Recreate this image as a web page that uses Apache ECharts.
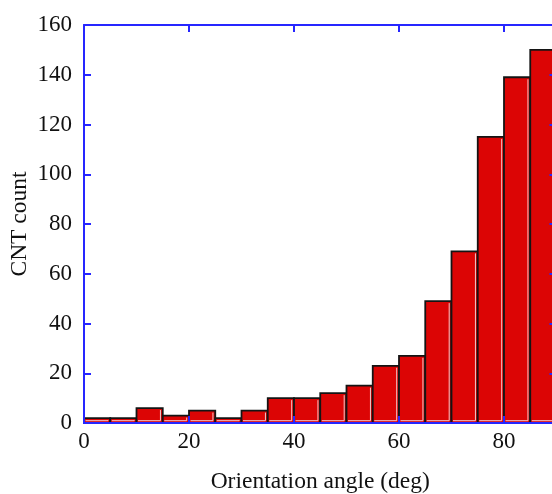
<!DOCTYPE html>
<html>
<head>
<meta charset="utf-8">
<script src="https://cdn.jsdelivr.net/npm/echarts@6/dist/echarts.min.js"></script>
<style>
  html, body { margin: 0; padding: 0; background: #fff; }
  #chart { width: 552px; height: 494px; }
</style>
</head>
<body>
<div id="chart"></div>
<script>
// Histogram of CNT orientation angles, 5-degree bins
const binStarts = [0, 5, 10, 15, 20, 25, 30, 35, 40, 45, 50, 55, 60, 65, 70, 75, 80, 85];
const binWidth = 5;
const cntCounts = [2, 2, 6, 3, 5, 2, 5, 10, 10, 12, 15, 23, 27, 49, 69, 115, 139, 150];
const xTicks = [0, 20, 40, 60, 80];
const yTicks = [0, 20, 40, 60, 80, 100, 120, 140, 160];

const FONT = '"Liberation Serif", "Times New Roman", serif';
const AXIS_BLUE = '#2626ff';
const BAR_RED = '#dc0505';
const TEXT = '#111111';

const histData = binStarts.map((s, i) => [s, s + binWidth, cntCounts[i]]);

const chart = echarts.init(document.getElementById('chart'), null, { renderer: 'canvas' });

const axisCommon = {
  type: 'value',
  splitLine: { show: false },
  axisLine: { show: true, onZero: false, lineStyle: { color: AXIS_BLUE, width: 2 } },
  axisTick: { show: true, inside: true, length: 7, lineStyle: { color: AXIS_BLUE, width: 2 } },
  z: 5
};

chart.setOption({
  animation: false,
  backgroundColor: '#fff',
  grid: { left: 84, top: 25, right: -4.5, bottom: 71, containLabel: false, outerBoundsMode: 'none' },
  xAxis: [
    Object.assign({}, axisCommon, {
      position: 'bottom',
      min: xTicks[0], max: 90, interval: 20,
      name: 'Orientation angle (deg)',
      nameLocation: 'middle',
      nameGap: 47,
      nameMoveOverlap: false,
      nameTextStyle: { fontFamily: FONT, fontSize: 23.5, color: TEXT },
      axisLabel: {
        margin: 7, fontFamily: FONT, fontSize: 23, color: TEXT,
        formatter: v => (xTicks.indexOf(v) >= 0 ? String(v) : '')
      }
    }),
    Object.assign({}, axisCommon, {
      position: 'top',
      min: xTicks[0], max: 90, interval: 20,
      axisLabel: { show: false }
    })
  ],
  yAxis: [
    Object.assign({}, axisCommon, {
      position: 'left',
      min: yTicks[0], max: yTicks[yTicks.length - 1], interval: 20,
      name: 'CNT count',
      nameLocation: 'middle',
      nameGap: 52,
      nameMoveOverlap: false,
      nameTextStyle: { fontFamily: FONT, fontSize: 23.5, color: TEXT },
      axisLabel: { margin: 12, fontFamily: FONT, fontSize: 23, color: TEXT }
    }),
    Object.assign({}, axisCommon, {
      position: 'right',
      min: yTicks[0], max: yTicks[yTicks.length - 1], interval: 20,
      axisLabel: { show: false }
    })
  ],
  series: [{
    type: 'custom',
    xAxisIndex: 0,
    yAxisIndex: 0,
    data: histData,
    encode: { x: [0, 1], y: 2 },
    renderItem: function (params, api) {
      const topLeft = api.coord([api.value(0), api.value(2)]);
      const botRight = api.coord([api.value(1), 0]);
      const x = topLeft[0], y = topLeft[1];
      const w = botRight[0] - x, h = botRight[1] - y;
      return {
        type: 'group',
        children: [
          {
            type: 'rect',
            shape: { x: x, y: y, width: w, height: h },
            style: { fill: BAR_RED, stroke: '#141414', lineWidth: 1.8 }
          },
          {
            // light inner edge along the right and bottom sides
            type: 'polyline',
            shape: { points: [[x + w - 2.3, y + 2], [x + w - 2.3, y + h - 2.3], [x + 1.5, y + h - 2.3]] },
            style: { fill: null, stroke: '#f2c9c9', lineWidth: 1 }
          }
        ]
      };
    },
    z: 2
  }]
});
</script>
</body>
</html>
